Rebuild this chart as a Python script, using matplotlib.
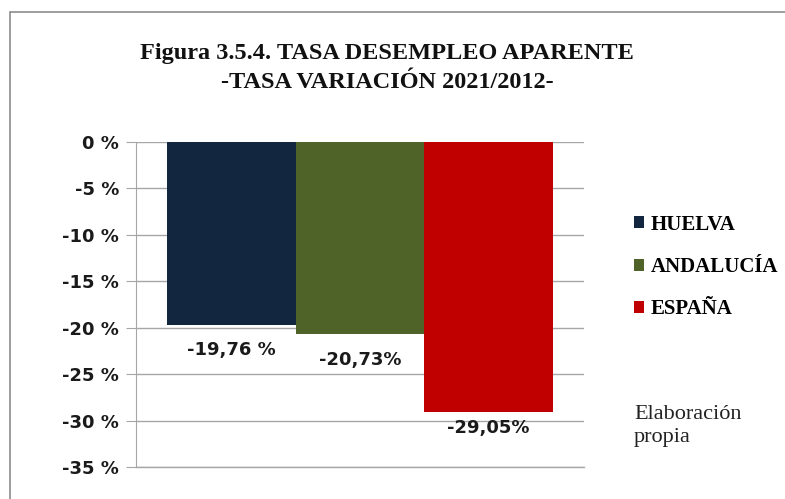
import numpy as np
import matplotlib
matplotlib.use('Agg')
import matplotlib.pyplot as plt
from matplotlib.patches import Rectangle, Patch

# datos
regiones = ['HUELVA', 'ANDALUCÍA', 'ESPAÑA']
variacion = [-19.76, -20.73, -29.05]
etiquetas = ['-19,76 %', '-20,73%', '-29,05%']
colores = ['#132640', '#4f6228', '#c00000']
yticks = [0, -5, -10, -15, -20, -25, -30, -35]
yticklabels = ['0 %', '-5 %', '-10 %', '-15 %', '-20 %', '-25 %', '-30 %', '-35 %']

W, H = 785, 499
fig = plt.figure(figsize=(W/100, H/100), dpi=100)

# marco gris del gráfico (se corta por la derecha y abajo)
fig.patches.append(Rectangle((10/W, -0.05), 1.0, (H-12)/H + 0.05, transform=fig.transFigure,
                             fill=False, edgecolor='#8c8c8c', linewidth=1.2))

ax = fig.add_axes([136/W, 32/H, 448/W, 325/H])

ancho = 0.287
x = np.array([-1, 0, 1])*ancho
barras = ax.bar(x, variacion, width=ancho, color=colores, zorder=3)

ax.set_xlim(-0.5, 0.5)
ax.set_ylim(-35, 0)
ax.set_yticks(yticks)
ax.set_yticklabels(yticklabels, fontsize=13, fontweight='bold', color='#1a1a1a')
ax.set_xticks([])
ax.grid(axis='y', color='#a6a6a6', linewidth=1, zorder=0)
ax.axhline(-35, color='#a6a6a6', linewidth=1, clip_on=False, zorder=0)
for s in ['top', 'right', 'bottom']:
    ax.spines[s].set_visible(False)
ax.spines['left'].set_color('#a6a6a6')
ax.tick_params(axis='y', length=7, color='#a6a6a6', pad=5)

# etiquetas de valores debajo de cada barra
desp = [-18, -18.5, -11.5]
for xi, v, t, d in zip(x, variacion, etiquetas, desp):
    ax.annotate(t, (xi, v), xytext=(0, d), textcoords='offset points', ha='center', va='center',
                fontsize=13, fontweight='bold', color='#1a1a1a', zorder=4)

fig.text(387/W, 1 - 68/H, 'Figura 3.5.4. TASA DESEMPLEO APARENTE\n-TASA VARIACIÓN 2021/2012-',
         ha='center', va='center', family='Liberation Serif', fontweight='bold', fontsize=17.5,
         linespacing=1.55, color='#111111')

handles = [Patch(facecolor=c) for c in colores]
fig.legend(handles, regiones, loc='center left', bbox_to_anchor=(615/W, 1 - 267/H),
           frameon=False, handlelength=0.5, handleheight=0.5, handletextpad=0.3,
           labelspacing=1.07, prop=dict(family='Liberation Serif', weight='bold', size=15))

fig.text(634/W, 1 - 426/H, 'Elaboración\npropia', ha='left', va='center',
         family='Liberation Serif', fontsize=16, linespacing=1.22, color='#222222')

fig.savefig('out.png', dpi=100)
